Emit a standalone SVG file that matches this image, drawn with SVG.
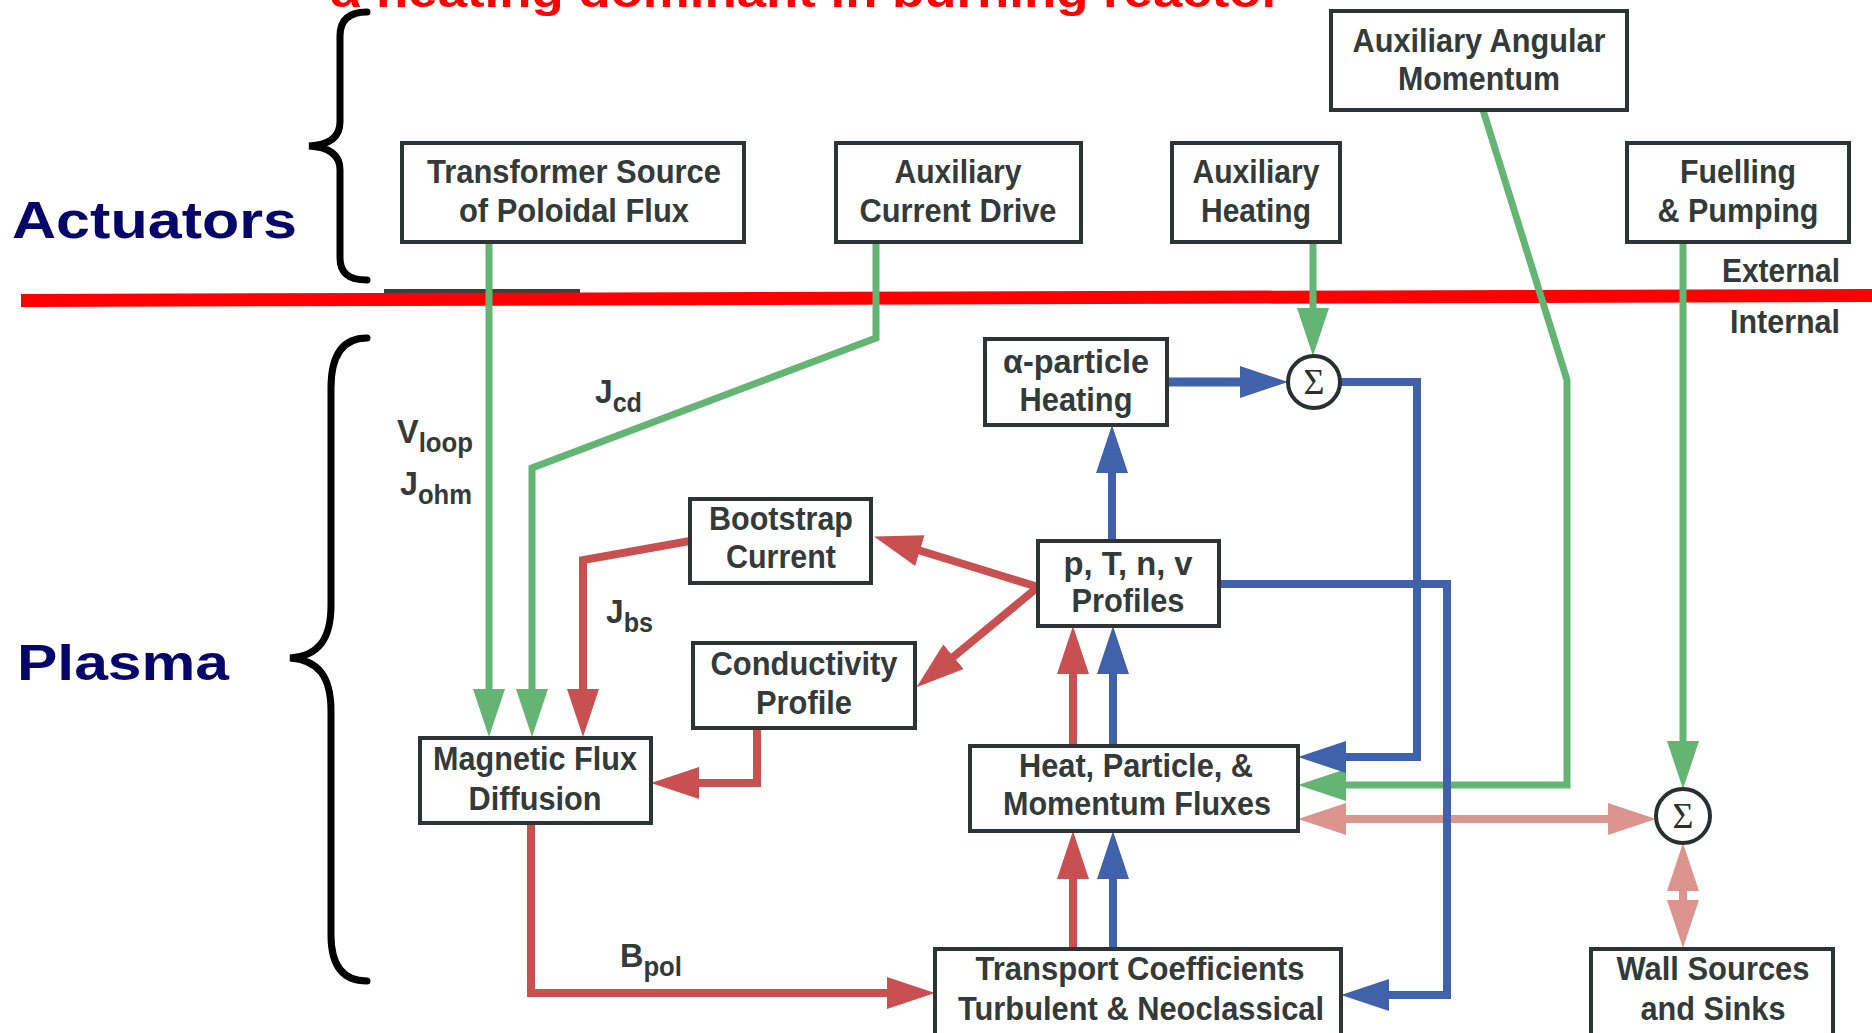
<svg xmlns="http://www.w3.org/2000/svg" width="1872" height="1033" viewBox="0 0 1872 1033">
<defs>
<style>
.box{fill:#fff;stroke:#2e3434;stroke-width:4}
.bt{font-family:"Liberation Sans",Arial,sans-serif;font-weight:bold;font-size:34px;fill:#333a3a;text-anchor:middle}
.lbl{font-family:"Liberation Sans",Arial,sans-serif;font-weight:bold;font-size:34px;fill:#333a3a}
.sub{font-size:27px}
.sig{fill:#fff;stroke:#2a3030;stroke-width:4}
.sigt{font-family:"Liberation Serif","Times New Roman",serif;font-size:36px;fill:#2a3030;text-anchor:middle}
.g{fill:none;stroke:#64b473;stroke-width:7;marker-end:url(#ag)}
.r{fill:none;stroke:#c85050;stroke-width:8;marker-end:url(#ar)}
.b{fill:none;stroke:#4062aa;stroke-width:8;marker-end:url(#ab)}
.p{fill:none;stroke:#dc948e;stroke-width:8;marker-end:url(#ap);marker-start:url(#ap)}
.brace{fill:none;stroke:#000;stroke-width:7;stroke-linecap:round}
.side{font-family:"Liberation Sans",Arial,sans-serif;font-weight:bold;fill:#06066a}
</style>
<marker id="ag" markerUnits="userSpaceOnUse" markerWidth="48" markerHeight="32" refX="2" refY="16" orient="auto-start-reverse"><path d="M0,0 L48,16 L0,32 Z" fill="#64b473"/></marker>
<marker id="ar" markerUnits="userSpaceOnUse" markerWidth="48" markerHeight="32" refX="2" refY="16" orient="auto-start-reverse"><path d="M0,0 L48,16 L0,32 Z" fill="#c85050"/></marker>
<marker id="ab" markerUnits="userSpaceOnUse" markerWidth="48" markerHeight="32" refX="2" refY="16" orient="auto-start-reverse"><path d="M0,0 L48,16 L0,32 Z" fill="#4062aa"/></marker>
<marker id="ap" markerUnits="userSpaceOnUse" markerWidth="48" markerHeight="32" refX="2" refY="16" orient="auto-start-reverse"><path d="M0,0 L48,16 L0,32 Z" fill="#dc948e"/></marker>
</defs>
<rect width="1872" height="1033" fill="#fff"/>

<text x="329" y="7" font-family="Liberation Sans, Arial, sans-serif" font-weight="bold" font-size="44" fill="#ff0000" textLength="953" lengthAdjust="spacingAndGlyphs">α heating dominant in burning reactor</text>

<g id="side-labels">
<text class="side" x="12" y="238" font-size="52" textLength="285" lengthAdjust="spacingAndGlyphs">Actuators</text>
<text class="side" x="17" y="680" font-size="50" font-family="DejaVu Sans, sans-serif" textLength="212" lengthAdjust="spacingAndGlyphs">Plasma</text>
<path class="brace" d="M367,12 C349,12 340,20 340,36 V122 C340,138 328,145 309,146 C328,147 340,154 340,170 V258 C340,273 349,280 367,280"/>
<path class="brace" d="M367,338 C345,338 331,352 331,388 V605 C331,640 318,656 290,658 C318,660 331,676 331,711 V935 C331,968 345,981 367,981"/>
<text class="lbl" x="1722" y="282" textLength="118" lengthAdjust="spacingAndGlyphs">External</text>
<text class="lbl" x="1730" y="333" textLength="110" lengthAdjust="spacingAndGlyphs">Internal</text>
</g>

<g id="boundary">
<rect x="384" y="289" width="196" height="5" fill="#3a4040"/>
<path d="M21,294 L1872,289 L1872,302 L21,307 Z" fill="#ff0000"/>
</g>

<g id="connectors">
<!-- green -->
<path class="g" d="M489,243 V691"/>
<path class="g" d="M876,243 V338 L532,468 V691"/>
<path class="g" d="M1313,243 V310"/>
<path class="g" d="M1483,110 L1567,380 V785 H1344"/>
<path class="g" d="M1683,243 V743"/>
<!-- red -->
<path class="r" d="M690,541 L583,560 V691"/>
<path class="r" d="M757,728 V783 H697"/>
<path class="r" d="M531,823 V993 H889"/>
<path class="r" d="M1038,587 L918,550"/>
<path class="r" d="M1038,587 L952,658"/>
<path class="r" d="M1073,948 V877"/>
<path class="r" d="M1073,745 V672"/>
<!-- pink -->
<path class="p" d="M1344,819 H1610"/>
<path class="p" d="M1683,889 V902"/>
<!-- blue -->
<path class="b" d="M1112,540 V471"/>
<path class="b" style="stroke-width:9" d="M1167,382 H1242"/>
<path class="b" d="M1340,382 H1417 V757 H1344"/>
<path class="b" d="M1219,584 H1447 V995 H1387"/>
<path class="b" d="M1113,948 V877"/>
<path class="b" d="M1113,745 V672"/>
</g>

<g id="transformer">
<rect class="box" x="402" y="143" width="342" height="99"/>
<text class="bt" x="574" y="183" textLength="294" lengthAdjust="spacingAndGlyphs">Transformer Source</text>
<text class="bt" x="574" y="222" textLength="230" lengthAdjust="spacingAndGlyphs">of Poloidal Flux</text>
</g>
<g id="aux-current-drive">
<rect class="box" x="836" y="143" width="245" height="99"/>
<text class="bt" x="958" y="183" textLength="127" lengthAdjust="spacingAndGlyphs">Auxiliary</text>
<text class="bt" x="958" y="222" textLength="197" lengthAdjust="spacingAndGlyphs">Current Drive</text>
</g>
<g id="aux-heating">
<rect class="box" x="1172" y="143" width="168" height="99"/>
<text class="bt" x="1256" y="183" textLength="127" lengthAdjust="spacingAndGlyphs">Auxiliary</text>
<text class="bt" x="1256" y="222" textLength="110" lengthAdjust="spacingAndGlyphs">Heating</text>
</g>
<g id="aux-angular-momentum">
<rect class="box" x="1331" y="11" width="296" height="99"/>
<text class="bt" x="1479" y="52" textLength="253" lengthAdjust="spacingAndGlyphs">Auxiliary Angular</text>
<text class="bt" x="1479" y="90" textLength="162" lengthAdjust="spacingAndGlyphs">Momentum</text>
</g>
<g id="fuelling">
<rect class="box" x="1627" y="143" width="222" height="99"/>
<text class="bt" x="1738" y="183" textLength="116" lengthAdjust="spacingAndGlyphs">Fuelling</text>
<text class="bt" x="1738" y="222" textLength="161" lengthAdjust="spacingAndGlyphs">&amp; Pumping</text>
</g>

<g id="alpha-heating">
<rect class="box" x="985" y="339" width="182" height="86"/>
<text class="bt" x="1076" y="373" textLength="146" lengthAdjust="spacingAndGlyphs">α-particle</text>
<text class="bt" x="1076" y="411" textLength="113" lengthAdjust="spacingAndGlyphs">Heating</text>
</g>
<g id="sum-heating">
<circle class="sig" cx="1314" cy="382" r="26"/>
<text class="sigt" x="1314" y="394">Σ</text>
</g>
<g id="profiles">
<rect class="box" x="1038" y="541" width="181" height="85"/>
<text class="bt" x="1128" y="575" textLength="129" lengthAdjust="spacingAndGlyphs">p, T, n, v</text>
<text class="bt" x="1128" y="612" textLength="113" lengthAdjust="spacingAndGlyphs">Profiles</text>
</g>
<g id="bootstrap">
<rect class="box" x="690" y="499" width="181" height="84"/>
<text class="bt" x="781" y="530" textLength="144" lengthAdjust="spacingAndGlyphs">Bootstrap</text>
<text class="bt" x="781" y="568" textLength="110" lengthAdjust="spacingAndGlyphs">Current</text>
</g>
<g id="conductivity">
<rect class="box" x="693" y="643" width="222" height="85"/>
<text class="bt" x="804" y="675" textLength="187" lengthAdjust="spacingAndGlyphs">Conductivity</text>
<text class="bt" x="804" y="714" textLength="96" lengthAdjust="spacingAndGlyphs">Profile</text>
</g>
<g id="magnetic-flux">
<rect class="box" x="420" y="738" width="231" height="85"/>
<text class="bt" x="535" y="770" textLength="204" lengthAdjust="spacingAndGlyphs">Magnetic Flux</text>
<text class="bt" x="535" y="810" textLength="133" lengthAdjust="spacingAndGlyphs">Diffusion</text>
</g>
<g id="fluxes">
<rect class="box" x="970" y="746" width="328" height="85"/>
<text class="bt" x="1136" y="777" textLength="234" lengthAdjust="spacingAndGlyphs">Heat, Particle, &amp;</text>
<text class="bt" x="1137" y="815" textLength="268" lengthAdjust="spacingAndGlyphs">Momentum Fluxes</text>
</g>
<g id="transport">
<rect class="box" x="935" y="949" width="406" height="86"/>
<text class="bt" x="1140" y="980" textLength="329" lengthAdjust="spacingAndGlyphs">Transport Coefficients</text>
<text class="bt" x="1141" y="1020" textLength="366" lengthAdjust="spacingAndGlyphs">Turbulent &amp; Neoclassical</text>
</g>
<g id="sum-wall">
<circle class="sig" cx="1683" cy="816" r="27"/>
<text class="sigt" x="1683" y="828">Σ</text>
</g>
<g id="wall-sources">
<rect class="box" x="1591" y="949" width="242" height="86"/>
<text class="bt" x="1713" y="980" textLength="193" lengthAdjust="spacingAndGlyphs">Wall Sources</text>
<text class="bt" x="1713" y="1020" textLength="145" lengthAdjust="spacingAndGlyphs">and Sinks</text>
</g>

<g id="connector-labels">
<text class="lbl" x="397" y="443" textLength="76" lengthAdjust="spacingAndGlyphs">V<tspan class="sub" dy="9">loop</tspan></text>
<text class="lbl" x="400" y="495" textLength="72" lengthAdjust="spacingAndGlyphs">J<tspan class="sub" dy="9">ohm</tspan></text>
<text class="lbl" x="595" y="403" textLength="47" lengthAdjust="spacingAndGlyphs">J<tspan class="sub" dy="9">cd</tspan></text>
<text class="lbl" x="606" y="623" textLength="47" lengthAdjust="spacingAndGlyphs">J<tspan class="sub" dy="9">bs</tspan></text>
<text class="lbl" x="620" y="967" textLength="62" lengthAdjust="spacingAndGlyphs">B<tspan class="sub" dy="9">pol</tspan></text>
</g>
</svg>
